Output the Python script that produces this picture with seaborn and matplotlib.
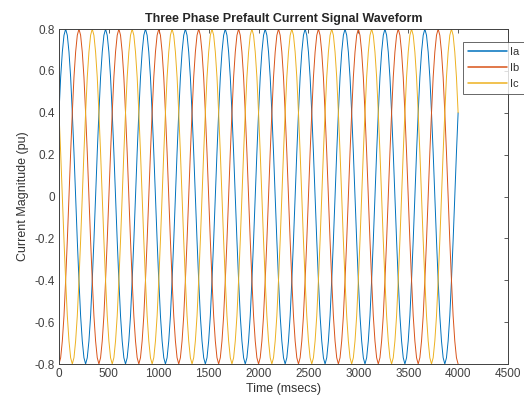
import numpy as np
import pandas as pd
import matplotlib
matplotlib.use("Agg")
import matplotlib.pyplot as plt
import seaborn as sns

ia_cycle = [0.40, 0.57, 0.69, 0.77, 0.80, 0.77, 0.69, 0.57, 0.40, 0.21, 0.00, -0.21,
            -0.40, -0.57, -0.69, -0.77, -0.80, -0.77, -0.69, -0.57, -0.40, -0.21, 0.00, 0.21]
ib_cycle = [-0.80, -0.77, -0.69, -0.57, -0.40, -0.21, 0.00, 0.21, 0.40, 0.57, 0.69, 0.77,
            0.80, 0.77, 0.69, 0.57, 0.40, 0.21, 0.00, -0.21, -0.40, -0.57, -0.69, -0.77]
ic_cycle = [0.40, 0.21, 0.00, -0.21, -0.40, -0.57, -0.69, -0.77, -0.80, -0.77, -0.69, -0.57,
            -0.40, -0.21, 0.00, 0.21, 0.40, 0.57, 0.69, 0.77, 0.80, 0.77, 0.69, 0.57]
n_cycles = 10
t_end = 4000  # msecs

phases = ["Ia", "Ib", "Ic"]
colors = ["#0072BD", "#D95319", "#EDB120"]
xticks = [0, 500, 1000, 1500, 2000, 2500, 3000, 3500, 4000, 4500]
yticks = [-0.8, -0.6, -0.4, -0.2, 0, 0.2, 0.4, 0.6, 0.8]

time = np.linspace(0, t_end, 24 * n_cycles + 1)
frames = []
for name, cyc in zip(phases, [ia_cycle, ib_cycle, ic_cycle]):
    vals = list(cyc) * n_cycles + [cyc[0]]
    frames.append(pd.DataFrame({"t": time, "I": vals, "phase": name}))
df = pd.concat(frames, ignore_index=True)

sns.set_style("white")
plt.rcParams["font.family"] = ["Liberation Sans", "DejaVu Sans"]
plt.rcParams["axes.unicode_minus"] = False

fig = plt.figure(figsize=(5.24, 4.08), dpi=100)
ax = fig.add_axes([59 / 524, 1 - 364 / 408, 449 / 524, 335 / 408])

sns.lineplot(data=df, x="t", y="I", hue="phase", palette=colors, linewidth=0.7,
             ax=ax, legend=False, sort=False, estimator=None)

ax.set_xlim(0, 4500)
ax.set_ylim(-0.8, 0.8)
ax.set_xticks(xticks)
ax.set_yticks(yticks)
ax.set_yticklabels(["%g" % v for v in yticks])
ax.tick_params(axis="both", direction="in", length=3, width=0.6, colors="#404040",
               labelsize=8.5, top=True, right=True, pad=3)
for s in ax.spines.values():
    s.set_color("#404040")
    s.set_linewidth(0.7)

ax.set_xlabel("Time (msecs)", fontsize=9, color="#333333", labelpad=2)
ax.set_ylabel("Current Magnitude (pu)", fontsize=9, color="#333333", labelpad=4)
ax.set_title("Three Phase Prefault Current Signal Waveform", fontsize=9,
             fontweight="bold", pad=5)

leg = ax.legend(handles=ax.get_lines()[:3], labels=phases,
                loc="upper left", bbox_to_anchor=(463 / 524, 1 - 42 / 408),
                bbox_transform=fig.transFigure, fontsize=8, frameon=True,
                fancybox=False, handlelength=3.5, handletextpad=0.25,
                borderpad=0.45, labelspacing=0.55, borderaxespad=0)
leg.get_frame().set_edgecolor("#404040")
leg.get_frame().set_linewidth(0.7)
for line in leg.get_lines():
    line.set_linewidth(1.1)
for txt in leg.get_texts():
    txt.set_color("#333333")

fig.savefig("out.png", dpi=100)
